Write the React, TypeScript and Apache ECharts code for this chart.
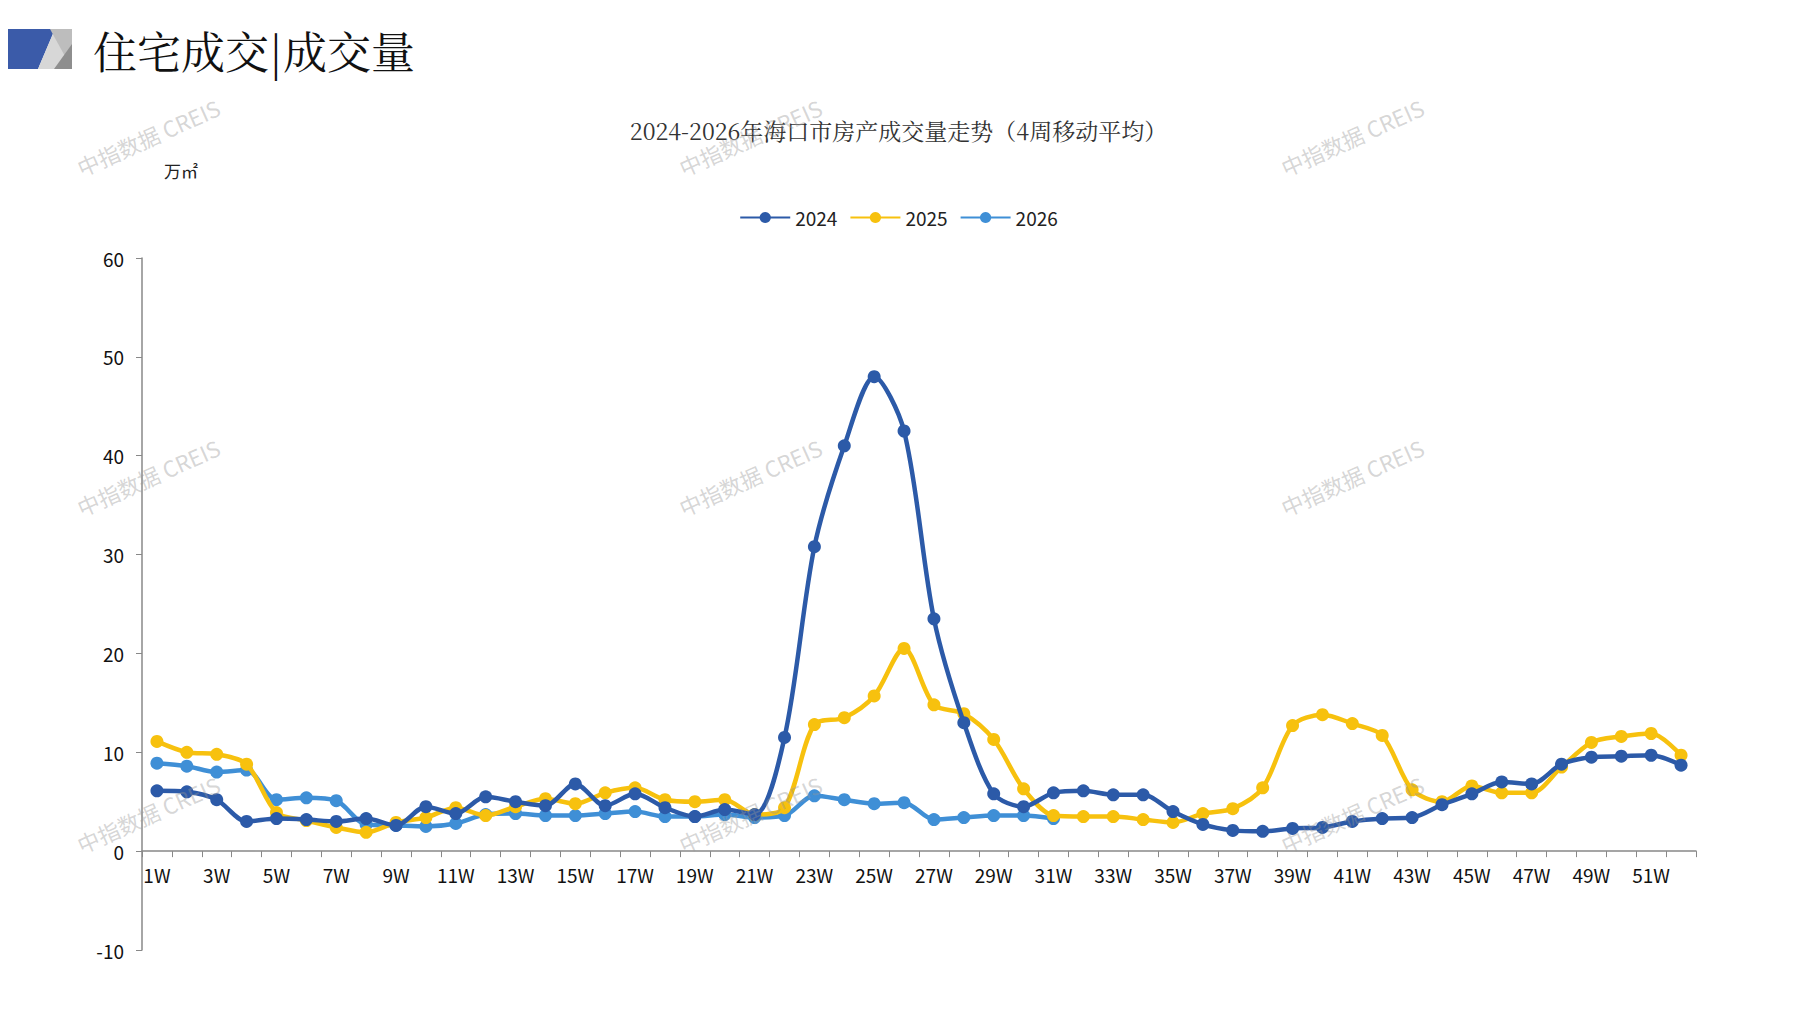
import { useEffect, useRef } from 'react';
import * as echarts from 'echarts';

const weeks = Array.from({ length: 52 }, (_, i) => `${i + 1}W`);

const s2024 = [6.1, 6.0, 5.2, 3.0, 3.3, 3.2, 3.0, 3.3, 2.6, 4.5, 3.8, 5.5, 5.0, 4.6, 6.8, 4.6, 5.8, 4.4, 3.5, 4.2,
  3.7, 11.5, 30.8, 41.0, 48.0, 42.5, 23.5, 13.0, 5.8, 4.5, 5.9, 6.1, 5.7, 5.7, 4.0, 2.7, 2.1, 2.0, 2.3, 2.4,
  3.0, 3.3, 3.4, 4.7, 5.8, 7.0, 6.8, 8.8, 9.5, 9.6, 9.7, 8.7];

const s2025 = [11.1, 10.0, 9.8, 8.8, 3.9, 3.1, 2.4, 1.9, 2.9, 3.4, 4.4, 3.6, 4.5, 5.3, 4.8, 5.9, 6.4, 5.2, 5.0, 5.2,
  3.7, 4.4, 12.8, 13.5, 15.7, 20.5, 14.8, 13.9, 11.3, 6.3, 3.6, 3.5, 3.5, 3.2, 2.9, 3.8, 4.3, 6.4, 12.7, 13.8,
  12.9, 11.7, 6.2, 5.0, 6.6, 5.9, 5.9, 8.5, 11.0, 11.6, 11.9, 9.7];

const s2026 = [8.9, 8.6, 8.0, 8.2, 5.2, 5.4, 5.1, 2.7, 2.6, 2.5, 2.8, 3.7, 3.8, 3.6, 3.6, 3.8, 4.0, 3.5, 3.5, 3.7,
  3.4, 3.6, 5.6, 5.2, 4.8, 4.9, 3.2, 3.4, 3.6, 3.6, 3.3];

const seriesNames = ['2024', '2025', '2026'];
const seriesColors = ['#2C5AA8', '#F7C10E', '#3F8FD6'];

const watermarkPos = [
  [78, 168], [680, 168], [1282, 168],
  [78, 508], [680, 508], [1282, 508],
  [78, 845], [680, 845], [1282, 845],
];

export default function App() {
  const ref = useRef<HTMLDivElement>(null);

  useEffect(() => {
    if (!ref.current) return;
    const chart = echarts.init(ref.current, undefined, { renderer: 'svg' });
    const font = '"Liberation Sans Narrow", "Noto Sans CJK SC", sans-serif';

    const marks = watermarkPos.map(([x, y]) => ({
      type: 'text',
      x, y,
      rotation: Math.PI / 7.5,
      silent: true,
      z: 100,
      style: {
        text: '中指数据 CREIS',
        fill: 'rgba(150,150,150,0.4)',
        font: '22px "Noto Sans CJK SC", sans-serif',
        textVerticalAlign: 'middle',
      },
    }));

    const data = [s2024, s2025, s2026];
    const gridTop = 258;
    const gridBottom = 60;
    const plotH = 1010 - gridTop - gridBottom;
    const zeroOffset = (plotH * 10) / 70;

    chart.setOption({
      animation: false,
      backgroundColor: '#fff',
      title: {
        text: '2024-2026年海口市房产成交量走势（4周移动平均）',
        left: 'center',
        top: 114,
        textStyle: { fontSize: 23, fontWeight: 'normal', color: '#333', fontFamily: '"Noto Serif CJK SC", "Noto Sans CJK SC", serif' },
      },
      legend: {
        top: 203,
        left: 'center',
        itemWidth: 50,
        itemHeight: 14,
        itemGap: 12,
        textStyle: { fontSize: 19, color: '#222', fontFamily: font },
        data: seriesNames,
      },
      graphic: [
        { type: 'polygon', shape: { points: [[0, 29], [55, 29], [38, 69], [0, 69]] }, style: { fill: '#3B5BA9' } },
        { type: 'polygon', shape: { points: [[55, 29], [72, 29], [72, 69], [38, 69]] }, style: { fill: '#D7D7D7' } },
        { type: 'polygon', shape: { points: [[50, 29], [72, 29], [72, 69]] }, style: { fill: '#BDBDBD' } },
        { type: 'polygon', shape: { points: [[72, 44], [72, 69], [54, 69]] }, style: { fill: '#8E8E8E' } },
        {
          type: 'text', x: 93, y: 50,
          style: { text: '住宅成交|成交量', font: '44px "Noto Serif CJK SC", "Noto Sans CJK SC", serif', fill: '#111', textVerticalAlign: 'middle' },
        },
        {
          type: 'text', x: 164, y: 170,
          style: { text: '万㎡', font: '17px "Noto Sans CJK SC", sans-serif', fill: '#222', textVerticalAlign: 'middle' },
        },
        ...marks,
      ],
      grid: { left: 142, right: 101, top: gridTop, bottom: gridBottom },
      xAxis: {
        type: 'category',
        data: weeks,
        boundaryGap: true,
        offset: -zeroOffset,
        axisLine: { onZero: false, lineStyle: { color: '#888', width: 1.5 } },
        axisTick: { show: true, interval: 0, length: 6, lineStyle: { color: '#888' } },
        axisLabel: { interval: 1, fontSize: 19, color: '#111', margin: 14, fontFamily: font },
      },
      yAxis: {
        type: 'value',
        min: -10,
        max: 60,
        interval: 10,
        splitLine: { show: false },
        axisLine: { show: true, lineStyle: { color: '#888', width: 1.5 } },
        axisTick: { show: true, length: 6, lineStyle: { color: '#888' } },
        axisLabel: { fontSize: 19, color: '#111', margin: 18, fontFamily: font },
      },
      series: seriesNames.map((name, i) => ({
        name,
        type: 'line',
        data: data[i],
        smooth: 0.3,
        symbol: 'circle',
        symbolSize: 13,
        lineStyle: { width: 4.5, color: seriesColors[i] },
        itemStyle: { color: seriesColors[i] },
        z: 3 - i,
      })),
    });

    return () => chart.dispose();
  }, []);

  return <div ref={ref} style={{ width: 1797, height: 1010, margin: -8 }} />;
}
